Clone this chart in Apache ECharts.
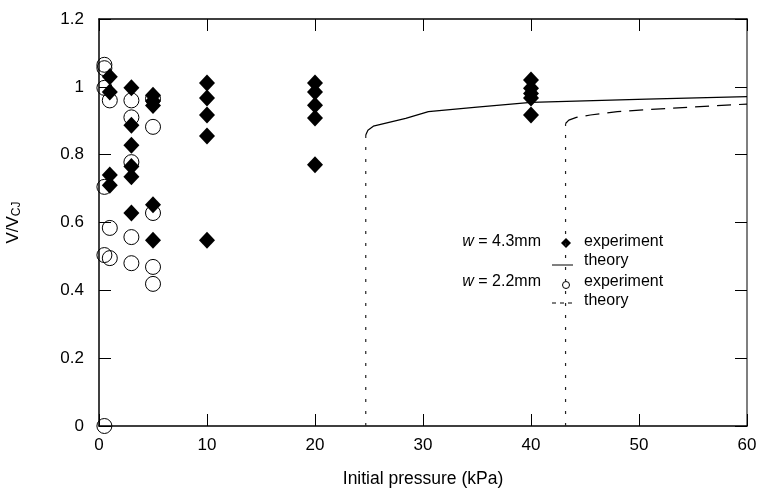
<!DOCTYPE html>
<html>
<head>
<meta charset="utf-8">
<script src="https://cdn.jsdelivr.net/npm/echarts@6/dist/echarts.min.js"></script>
<style>
  html, body { margin: 0; padding: 0; background: #fff; }
  #chart { width: 757px; height: 488px; }
</style>
</head>
<body>
<div id="chart"></div>
<script>
// w = 4.3mm experiment (filled diamonds)
const diamondX = [1, 1, 1, 1, 3, 3, 3, 3, 3, 3, 5, 5, 5, 5, 5, 10, 10, 10, 10, 10, 20, 20, 20, 20, 20, 40, 40, 40, 40, 40];
const diamondY = [1.03, 0.985, 0.74, 0.71, 0.997, 0.887, 0.828, 0.765, 0.735, 0.628, 0.975, 0.958, 0.945, 0.652, 0.548,
  1.011, 0.967, 0.917, 0.855, 0.548, 1.011, 0.985, 0.946, 0.908, 0.77, 1.02, 0.996, 0.98, 0.967, 0.917];

// w = 2.2mm experiment (open circles)
const circleX = [0.5, 0.5, 0.5, 0.5, 0.5, 0.5, 1, 1, 1, 3, 3, 3, 3, 3, 5, 5, 5, 5, 5];
const circleY = [1.065, 1.055, 0.997, 0.705, 0.504, 0, 0.96, 0.584, 0.495, 0.96, 0.91, 0.778, 0.557, 0.48, 0.965, 0.882, 0.628, 0.469, 0.419];

// theory curves
const theory43X = [24.7, 24.9, 25.4, 28.4, 30.5, 35, 40, 50.7, 60];
const theory43Y = [0.858, 0.872, 0.884, 0.907, 0.927, 0.94, 0.954, 0.964, 0.971];
const theory22X = [43.2, 43.5, 44.2, 45.5, 48, 52, 58.6, 60];
const theory22Y = [0.892, 0.902, 0.91, 0.917, 0.927, 0.935, 0.947, 0.949];

// limits (vertical dotted lines)
const limit43 = [[24.7, 0], [24.7, 0.858]];
const limit22 = [[43.2, 0], [43.2, 0.892]];

const xTicks = { min: 0, max: 60, interval: 10 };
const yTicks = { min: 0, max: 1.2, interval: 0.2 };

const zip = (xs, ys) => xs.map((x, i) => [x, ys[i]]);

var myChart = echarts.init(document.getElementById('chart'));

const font = 'Liberation Sans, Arial, sans-serif';
const tick = { show: true, inside: true, length: 12, lineStyle: { color: '#000', width: 1 } };
const axisLine = { show: true, onZero: false, lineStyle: { color: '#000', width: 1.5 } };

var option = {
  animation: false,
  backgroundColor: '#fff',
  grid: { left: 99, right: 10, top: 19, bottom: 62, outerBoundsMode: 'none', containLabel: false },
  xAxis: [
    {
      type: 'value', ...xTicks,
      axisLine: axisLine, axisTick: tick, splitLine: { show: false },
      axisLabel: { color: '#000', fontSize: 17, fontFamily: font, margin: 11 },
      name: 'Initial pressure (kPa)', nameLocation: 'middle', nameGap: 44,
      nameTextStyle: { color: '#000', fontSize: 17.5, fontFamily: font }
    },
    {
      type: 'value', position: 'top', ...xTicks,
      axisLine: axisLine, axisTick: tick, splitLine: { show: false },
      axisLabel: { show: false }
    }
  ],
  yAxis: [
    {
      type: 'value', ...yTicks,
      axisLine: axisLine, axisTick: tick, splitLine: { show: false },
      axisLabel: { color: '#000', fontSize: 17, fontFamily: font, margin: 15 },
      name: 'V/V{sub|CJ}', nameLocation: 'middle', nameGap: 76, nameRotate: 90,
      nameTextStyle: {
        color: '#000', fontSize: 17, fontFamily: font,
        rich: { sub: { fontSize: 12, fontFamily: font, color: '#000', verticalAlign: 'bottom', padding: [7, 0, 0, 0] } }
      }
    },
    {
      type: 'value', position: 'right', ...yTicks,
      axisLine: { show: true, onZero: false, lineStyle: { color: '#555', width: 1.5 } }, axisTick: tick, splitLine: { show: false },
      axisLabel: { show: false }
    }
  ],
  series: [
    {
      name: 'limit 4.3', type: 'line', data: limit43, symbol: 'none',
      lineStyle: { color: '#222', width: 1.2, type: [3, 9] }
    },
    {
      name: 'limit 2.2', type: 'line', data: limit22, symbol: 'none',
      lineStyle: { color: '#222', width: 1.2, type: [3, 9] }
    },
    {
      name: 'theory 4.3', type: 'line', data: zip(theory43X, theory43Y), symbol: 'none',
      lineStyle: { color: '#000', width: 1.2 }
    },
    {
      name: 'theory 2.2', type: 'line', data: zip(theory22X, theory22Y), symbol: 'none',
      lineStyle: { color: '#000', width: 1.2, type: [14, 8] }
    },
    {
      name: 'exp 4.3', type: 'scatter', data: zip(diamondX, diamondY), clip: false,
      symbol: 'diamond', symbolSize: [16, 17],
      itemStyle: { color: '#000', opacity: 1 }
    },
    {
      name: 'exp 2.2', type: 'scatter', data: zip(circleX, circleY), clip: false,
      symbol: 'circle', symbolSize: 15,
      itemStyle: { color: 'rgba(0,0,0,0)', borderColor: '#000', borderWidth: 1, opacity: 1 }
    }
  ],
  graphic: [
    // legend rows
    { type: 'text', right: 757 - 541, top: 234, style: { text: '{i|w} = 4.3mm', font: '16px ' + font, fill: '#000',
      rich: { i: { fontStyle: 'italic', fontSize: 16, fontFamily: font } } } },
    { type: 'polygon', shape: { points: [[566, 238], [571, 243], [566, 248], [561, 243]] }, style: { fill: '#000' } },
    { type: 'text', left: 584, top: 234, style: { text: 'experiment', font: '16px ' + font, fill: '#000' } },

    { type: 'line', shape: { x1: 552, y1: 265, x2: 573, y2: 265 }, style: { stroke: '#000', lineWidth: 1 } },
    { type: 'text', left: 584, top: 253, style: { text: 'theory', font: '16px ' + font, fill: '#000' } },

    { type: 'text', right: 757 - 541, top: 274, style: { text: '{i|w} = 2.2mm', font: '16px ' + font, fill: '#000',
      rich: { i: { fontStyle: 'italic', fontSize: 16, fontFamily: font } } } },
    { type: 'circle', shape: { cx: 566, cy: 285, r: 3.5 }, style: { fill: 'none', stroke: '#000', lineWidth: 1 } },
    { type: 'text', left: 584, top: 274, style: { text: 'experiment', font: '16px ' + font, fill: '#000' } },

    { type: 'line', shape: { x1: 552, y1: 303, x2: 573, y2: 303 }, style: { stroke: '#000', lineWidth: 1, lineDash: [4, 4] } },
    { type: 'text', left: 584, top: 293, style: { text: 'theory', font: '16px ' + font, fill: '#000' } }
  ]
};

myChart.setOption(option);
</script>
</body>
</html>
